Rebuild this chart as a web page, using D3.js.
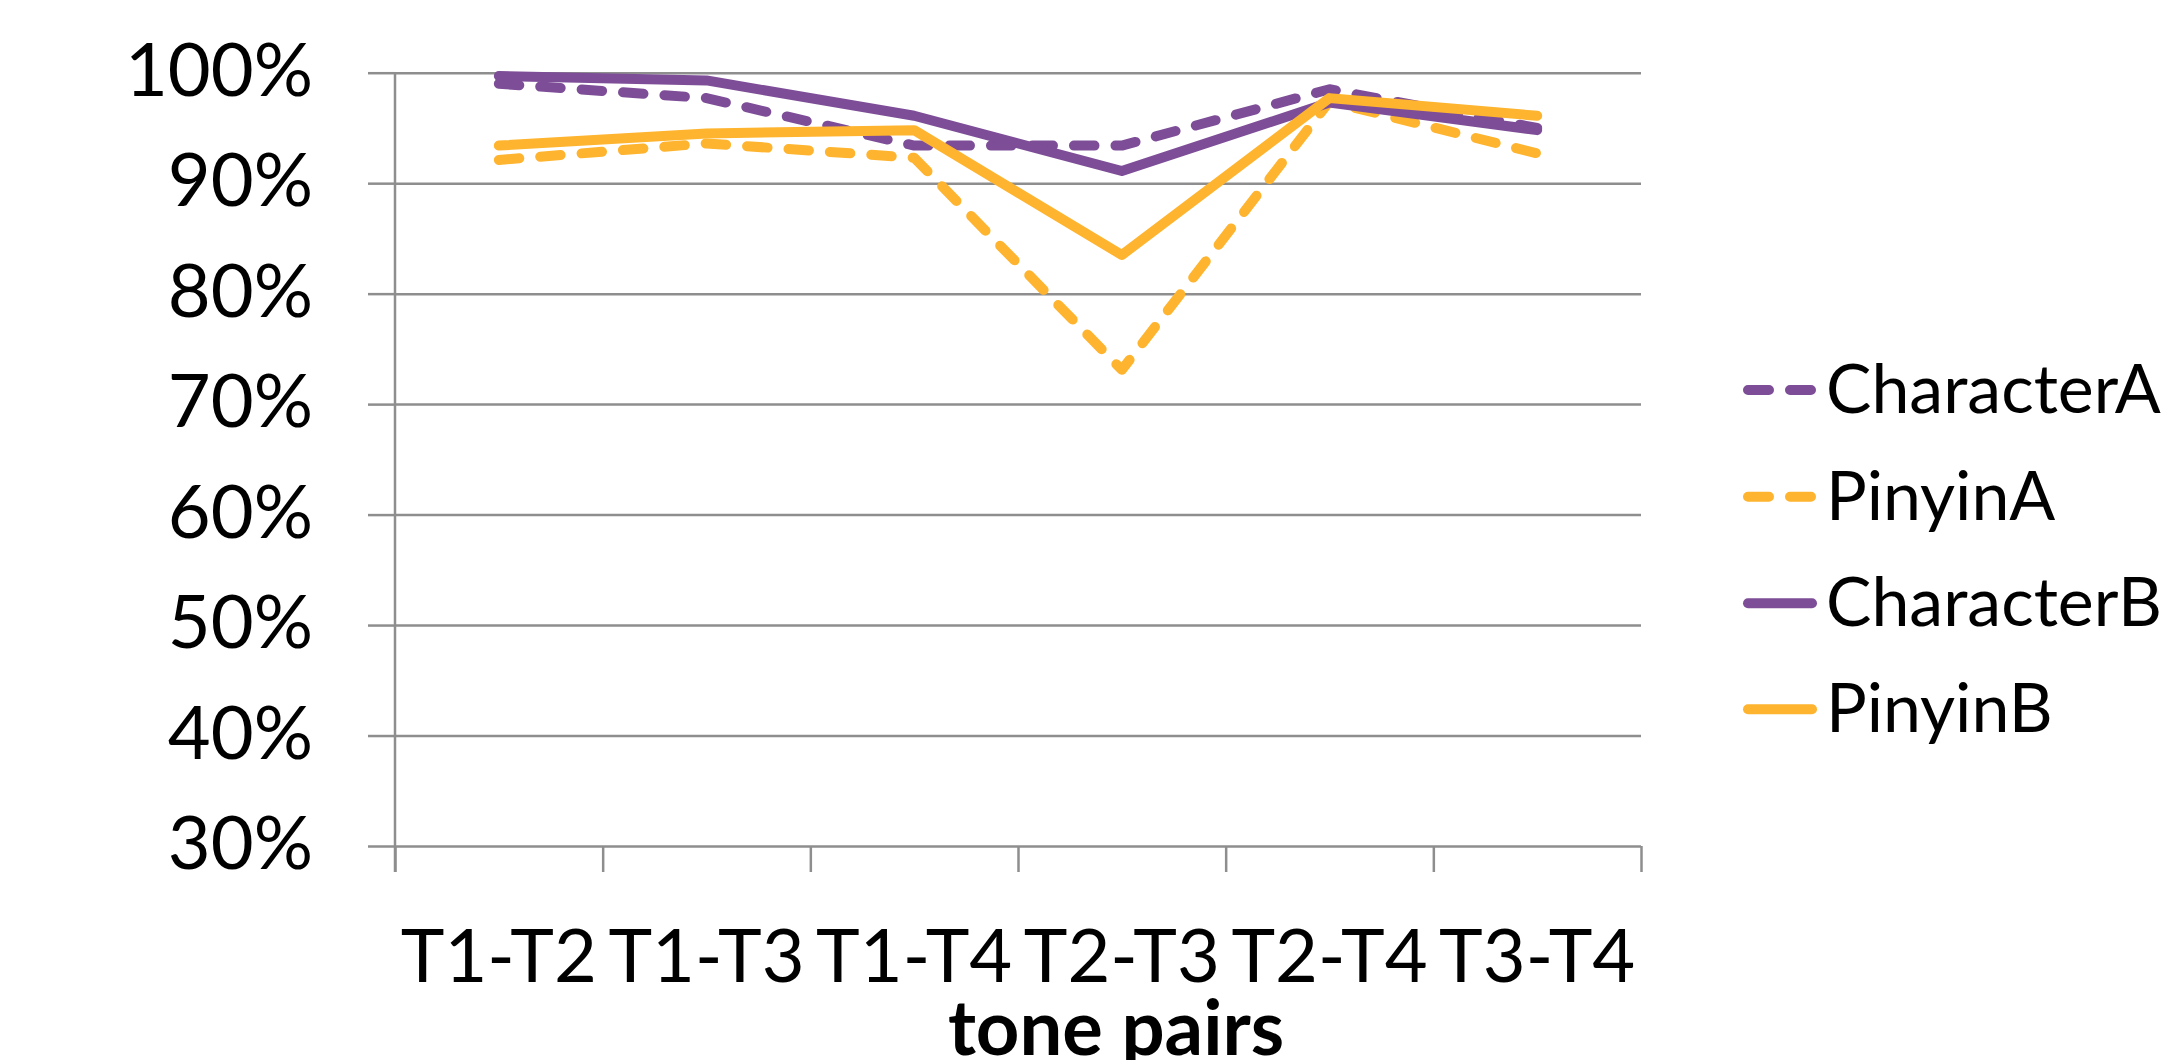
<!DOCTYPE html>
<html>
<head>
<meta charset="utf-8">
<script src="https://cdn.jsdelivr.net/npm/d3@7"></script>
<style>
  html, body { margin: 0; padding: 0; background: #ffffff; }
  svg { display: block; }
  text { font-family: Lato, "Open Sans", sans-serif; fill: #000; }
</style>
</head>
<body>
<svg id="chart" width="2166" height="1060"></svg>
<script>
// ---- data ----
const categories = ["T1-T2", "T1-T3", "T1-T4", "T2-T3", "T2-T4", "T3-T4"];
const seriesNames = ["CharacterA", "PinyinA", "CharacterB", "PinyinB"];
const characterA = [0.990, 0.977, 0.934, 0.934, 0.985, 0.950];
const pinyinA    = [0.921, 0.936, 0.923, 0.731, 0.974, 0.927];
const characterB = [0.997, 0.993, 0.961, 0.911, 0.973, 0.948];
const pinyinB    = [0.934, 0.945, 0.948, 0.835, 0.977, 0.961];
const yTicks = [0.3, 0.4, 0.5, 0.6, 0.7, 0.8, 0.9, 1.0];
const xTitle = "tone pairs";

const seriesValues = [characterA, pinyinA, characterB, pinyinB];
const seriesColor = ["#7d4e97", "#feb42e", "#7d4e97", "#feb42e"];
const seriesDashed = [true, true, false, false];

// ---- layout ----
const plotLeft = 395, plotRight = 1641, plotTop = 72.7, plotBottom = 846;
const svg = d3.select("#chart");

const x = d3.scaleBand().domain(categories).range([plotLeft, plotRight]).padding(0);
const xEdges = d3.scaleLinear().domain([0, categories.length]).range([plotLeft, plotRight]);
const y = d3.scaleLinear().domain([0.3, 1.0]).range([plotBottom, plotTop]);

const gridColor = "#8e8e8e";

// horizontal gridlines
const grid = svg.append("g").attr("transform", `translate(${plotLeft},0)`)
  .call(d3.axisLeft(y).tickValues(yTicks).tickSize(-(plotRight - plotLeft)).tickFormat(""));
grid.select(".domain").remove();
grid.selectAll("line").attr("stroke", gridColor).attr("stroke-width", 2.5);

// y axis with outward ticks + labels
const yAxis = svg.append("g").attr("transform", `translate(${plotLeft},0)`)
  .call(d3.axisLeft(y).tickValues(yTicks).tickSize(27).tickPadding(55)
        .tickFormat(d3.format(".0%")));
yAxis.select(".domain").remove();
yAxis.selectAll("line").attr("stroke", gridColor).attr("stroke-width", 2.5);
yAxis.selectAll("text").attr("font-size", 74).attr("dy", 22.5)
  .attr("font-family", "Lato").attr("fill", "#000");

// vertical axis line (extends down to tick ends)
svg.append("line").attr("x1", plotLeft).attr("x2", plotLeft).attr("y1", plotTop).attr("y2", plotBottom + 26)
  .attr("stroke", gridColor).attr("stroke-width", 2.5);

// x axis boundary ticks
const xTickAxis = svg.append("g").attr("transform", `translate(0,${plotBottom})`)
  .call(d3.axisBottom(xEdges).tickValues(d3.range(categories.length + 1)).tickSize(26).tickFormat(""));
xTickAxis.select(".domain").remove();
xTickAxis.selectAll("line").attr("stroke", gridColor).attr("stroke-width", 2.5);

// x labels
const xAxis = svg.append("g").attr("transform", `translate(0,${plotBottom})`)
  .call(d3.axisBottom(x).tickSize(0).tickPadding(0));
xAxis.select(".domain").remove();
xAxis.selectAll("text").attr("y", 136).attr("dy", 0).attr("font-size", 74)
  .attr("font-family", "Lato").attr("fill", "#000");

// x title
svg.append("text").attr("x", 1116).attr("y", 1055).attr("text-anchor", "middle")
  .attr("font-size", 76).attr("font-weight", "bold").text(xTitle);

// series lines
const line = d3.line()
  .x((d, i) => x(categories[i]) + x.bandwidth() / 2)
  .y(d => y(d));

seriesValues.forEach((vals, k) => {
  svg.append("path").datum(vals)
    .attr("d", line)
    .attr("fill", "none")
    .attr("stroke", seriesColor[k])
    .attr("stroke-width", 10)
    .attr("stroke-linejoin", "round")
    .attr("stroke-linecap", "round")
    .attr("stroke-dasharray", seriesDashed[k] ? "20.5,21" : null);
});

// legend
const legendRowsY = [390, 496.7, 603.3, 709.3];
const legend = svg.append("g");
seriesNames.forEach((name, k) => {
  const ly = legendRowsY[k];
  legend.append("line").attr("x1", 1748).attr("x2", 1812).attr("y1", ly).attr("y2", ly)
    .attr("stroke", seriesColor[k]).attr("stroke-width", 10)
    .attr("stroke-linecap", "round")
    .attr("stroke-dasharray", seriesDashed[k] ? "21,21" : null);
  legend.append("text").attr("x", 1826).attr("y", ly + 23)
    .attr("font-size", 68).text(name);
});
</script>
</body>
</html>
